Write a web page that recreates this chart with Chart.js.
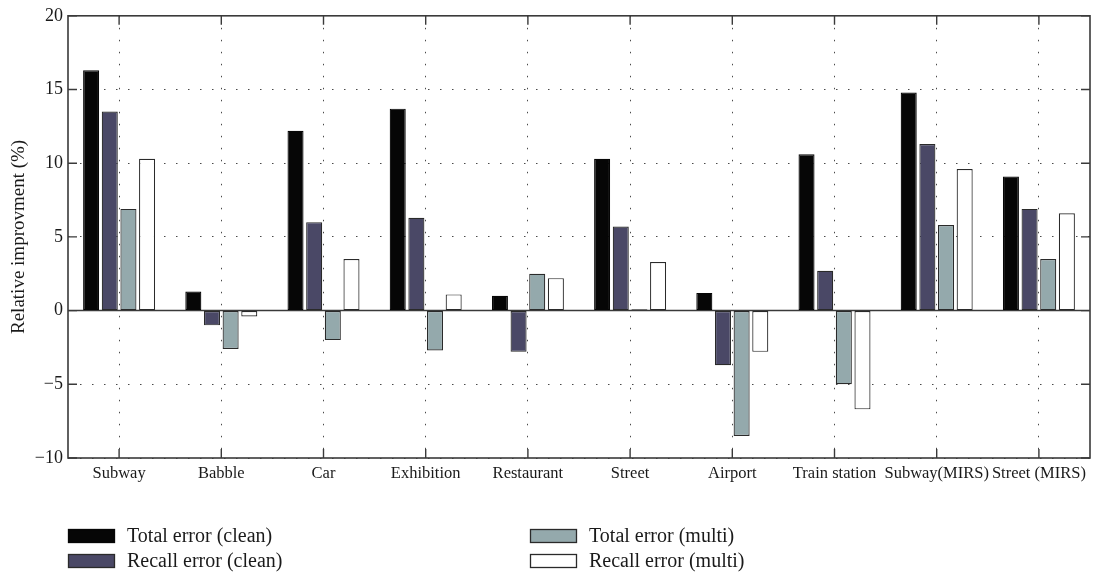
<!DOCTYPE html>
<html>
<head>
<meta charset="utf-8">
<script src="https://cdn.jsdelivr.net/npm/chart.js@4"></script>
<style>
  html, body { margin: 0; padding: 0; background: #ffffff; }
  #wrap { width: 1100px; height: 573px; }
</style>
</head>
<body>
<div id="wrap"><canvas id="c" width="1100" height="573"></canvas></div>
<script>
const categories = ['Subway', 'Babble', 'Car', 'Exhibition', 'Restaurant', 'Street', 'Airport', 'Train station', 'Subway(MIRS)', 'Street (MIRS)'];
const totalClean  = [16.3,  1.3, 12.2, 13.7,  1.0, 10.3,  1.2, 10.6, 14.8, 9.1];
const recallClean = [13.5, -1.0,  6.0,  6.3, -2.8,  5.7, -3.7,  2.7, 11.3, 6.9];
const totalMulti  = [ 6.9, -2.6, -2.0, -2.7,  2.5,  0.1, -8.5, -5.0,  5.8, 3.5];
const recallMulti = [10.3, -0.4,  3.5,  1.1,  2.2,  3.3, -2.8, -6.7,  9.6, 6.6];
const seriesNames = ['Total error (clean)', 'Recall error (clean)', 'Total error (multi)', 'Recall error (multi)'];
const yTicks = [-10, -5, 0, 5, 10, 15, 20];

const FONT = "'Liberation Serif', 'DejaVu Serif', serif";
const colors = ['#060606', '#4a4866', '#94a9ac', '#ffffff'];
const edge = ['#060606', '#2a2a2a', '#2a2a2a', '#2a2a2a'];
const frameColor = '#3a3a3a';

const framePlugin = {
  id: 'frame',
  beforeDatasetsDraw(chart) {
    const {ctx, chartArea: a, scales: {y}} = chart;
    const y0 = y.getPixelForValue(0);
    ctx.save();
    ctx.strokeStyle = frameColor;
    ctx.lineWidth = 1.5;
    ctx.beginPath();
    ctx.moveTo(a.left, y0);
    ctx.lineTo(a.right, y0);
    ctx.stroke();
    ctx.restore();
  },
  afterDatasetsDraw(chart) {
    const {ctx, chartArea: a, scales: {x, y}} = chart;
    ctx.save();
    ctx.strokeStyle = frameColor;
    ctx.lineWidth = 1.6;
    ctx.strokeRect(a.left, a.top, a.right - a.left, a.bottom - a.top);
    const tl = 9;
    ctx.lineWidth = 1.4;
    ctx.beginPath();
    yTicks.forEach(v => {
      const py = y.getPixelForValue(v);
      ctx.moveTo(a.left, py); ctx.lineTo(a.left + tl, py);
      ctx.moveTo(a.right, py); ctx.lineTo(a.right - tl, py);
    });
    categories.forEach((c, i) => {
      const px = x.getPixelForValue(i);
      ctx.moveTo(px, a.bottom); ctx.lineTo(px, a.bottom - tl);
      ctx.moveTo(px, a.top); ctx.lineTo(px, a.top + tl);
    });
    ctx.stroke();
    ctx.restore();
  },
  afterDraw(chart) {
    const ctx = chart.ctx;
    const cols = [68, 530];
    const rows = [529, 554];
    const order = [[0, 0, 0], [1, 0, 1], [2, 1, 0], [3, 1, 1]];
    ctx.save();
    ctx.font = "20px " + FONT;
    ctx.textBaseline = 'middle';
    ctx.textAlign = 'left';
    order.forEach(([di, ci, ri]) => {
      const bx = cols[ci], by = rows[ri];
      ctx.fillStyle = colors[di];
      ctx.fillRect(bx, by, 47, 14);
      ctx.strokeStyle = di === 0 ? '#060606' : '#2a2a2a';
      ctx.lineWidth = 1.3;
      ctx.strokeRect(bx + 0.5, by + 0.5, 46, 13);
      ctx.fillStyle = '#1a1a1a';
      ctx.fillText(chart.data.datasets[di].label, bx + 59, by + 8);
    });
    ctx.restore();
  }
};

const dataLists = [totalClean, recallClean, totalMulti, recallMulti];

new Chart(document.getElementById('c'), {
  type: 'bar',
  data: {
    labels: categories,
    datasets: dataLists.map((d, i) => ({
      label: seriesNames[i],
      data: d,
      backgroundColor: colors[i],
      borderColor: edge[i],
      borderWidth: 1.2,
      borderSkipped: false,
      categoryPercentage: 0.73,
      barPercentage: 0.86
    }))
  },
  options: {
    responsive: false,
    animation: false,
    devicePixelRatio: 1,
    layout: { padding: { left: 0, right: 10, top: 11, bottom: 75 } },
    plugins: { legend: { display: false }, tooltip: { enabled: false } },
    scales: {
      x: {
        offset: true,
        afterFit(s) { s.height = 40; },
        grid: { display: true, offset: false, drawTicks: false, color: '#4a4a4a', lineWidth: 1 },
        border: { display: false, dash: [1.5, 10.5] },
        ticks: { color: '#1a1a1a', padding: 6, maxRotation: 0, autoSkip: false, font: { family: FONT, size: 16.5 } }
      },
      y: {
        min: -10,
        max: 20,
        afterFit(s) { s.width = 68; },
        afterBuildTicks(s) { s.ticks = yTicks.map(v => ({ value: v })); },
        grid: { display: true, drawTicks: false, color: '#4a4a4a', lineWidth: 1 },
        border: { display: false, dash: [1.5, 10.5] },
        ticks: {
          color: '#1a1a1a', padding: 5,
          font: { family: FONT, size: 18 },
          callback: v => String(v).replace('-', '\u2212')
        },
        title: {
          display: true,
          text: 'Relative improvment (%)',
          color: '#1a1a1a',
          padding: { top: 8, bottom: 0 },
          font: { family: FONT, size: 19, lineHeight: 1.2 }
        }
      }
    }
  },
  plugins: [framePlugin]
});
</script>
</body>
</html>
